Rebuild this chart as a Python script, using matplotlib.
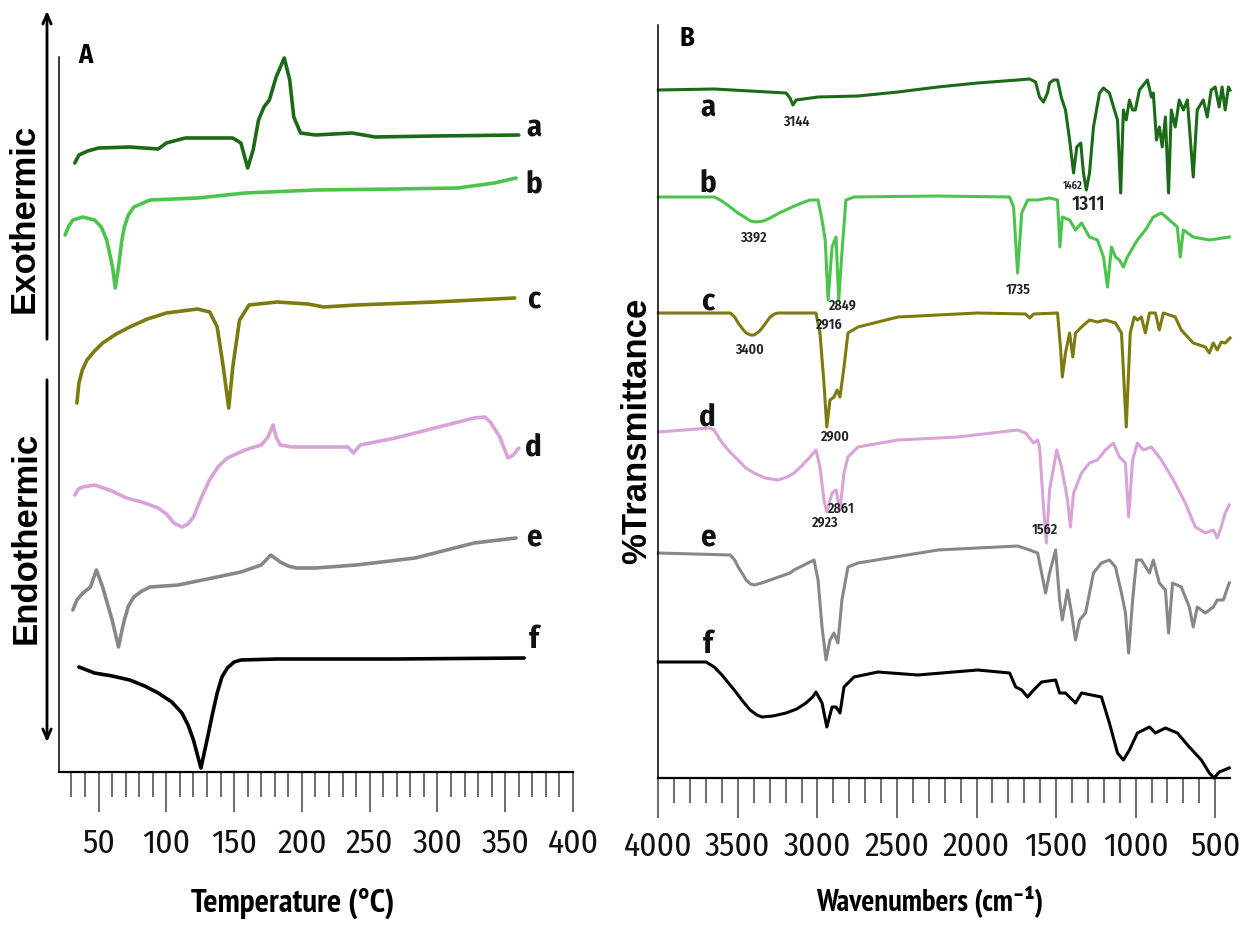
import matplotlib
matplotlib.use("Agg")
import matplotlib.pyplot as plt
from matplotlib import font_manager
from matplotlib.ticker import MultipleLocator

# --- fonts: condensed face for ticks, narrower bold face for the axis titles ---
names = {f.name for f in font_manager.fontManager.ttflist}
NARROW = "DejaVu Sans"
for cand in ["Fira Sans Condensed", "Barlow Semi Condensed", "Archivo Narrow"]:
    if cand in names:
        NARROW = cand
        break
TITLE, TITLE_SIZE = NARROW, 20.5
for cand, size in [("PT Sans Narrow", 22.5), ("Fira Sans Extra Condensed", 22)]:
    if cand in names:
        TITLE, TITLE_SIZE = cand, size
        break
ARIAL = "Liberation Sans"

# --- panel A: DSC thermograms (temperature in C, heat flow in a.u., stacked) ---
a_T = [32.5, 35.5, 42, 50, 73, 94, 100, 114, 149, 155, 160, 164, 168, 172, 176, 181, 187, 191, 194, 199, 210,
       237, 254, 298, 360]
a_h = [609, 617, 621, 624, 625, 623, 629, 634, 634, 629, 604, 622, 652, 665, 672, 695, 714, 692, 655, 639, 637,
       639, 635, 636, 637]

b_T = [25.3, 28, 31, 38.4, 47, 52, 56, 60.3, 62.3, 64.7, 67, 69, 72, 76, 88, 123, 158, 210, 269, 315, 342, 358]
b_h = [537, 546, 552, 555, 552, 545, 532, 505, 484, 505, 530, 545, 557, 565, 572, 574, 579, 582, 583, 584, 589, 594]

c_T = [34, 35.5, 38, 41.4, 47, 53, 63, 73, 86, 100, 123, 132, 137.5, 142, 146, 149, 154, 161, 181.7, 204.6, 216,
       240, 298, 357]
c_h = [369, 389, 402, 412, 421, 429, 438, 445, 453, 459, 463, 460, 445, 405, 364, 405, 452, 467, 470, 468, 465,
       467, 470, 474]

d_T = [32.5, 35, 38.4, 47, 60, 70.5, 82, 94, 100, 105.6, 111.5, 116, 120, 126, 131.8, 138, 145, 158, 170, 175,
       178.7, 181, 184, 193, 234, 238, 243, 269, 298, 327, 335, 339, 346, 352, 356, 360]
d_h = [277, 283, 285, 287, 281, 274, 270, 264, 258, 249, 245, 248, 255, 275, 292, 305, 314, 322, 327, 335,
       347, 335, 327, 325, 325, 319, 327, 334, 344, 354, 355, 350, 335, 314, 317, 324]

e_T = [31, 34, 38.4, 44, 48.4, 53, 57, 60, 64.7, 67, 69, 72, 76, 82, 88, 108.6, 137.5, 155, 170, 177, 184, 190,
       196, 210, 240, 283.6, 327, 358]
e_h = [162, 172, 179, 185, 202, 185, 166, 152, 125, 140, 152, 166, 175, 181, 185, 187, 195, 200, 207, 217, 210,
       206, 204, 204, 207, 214, 229, 234]

f_T = [35.5, 47, 60, 73, 84, 94, 104, 111.5, 116, 120, 125.5, 130, 134, 137.5, 141, 145, 150, 155, 181.7, 269, 364]
f_h = [105, 99, 96, 92, 86, 79, 70, 59, 47, 32, 4, 32, 58, 79, 95, 104, 110, 112, 113, 113, 114]

# --- panel B: FTIR spectra (wavenumber in cm-1, transmittance in a.u., stacked) ---
ir_a_w = [4000, 3648, 3197, 3172, 3154, 3134, 2996, 2745, 2494, 2243, 1993, 1742, 1666, 1629, 1604, 1579, 1554,
          1541, 1516, 1491, 1466, 1441, 1415, 1390, 1370, 1345, 1328, 1310, 1290, 1265, 1227, 1202, 1165, 1139,
          1114, 1094, 1077, 1059, 1039, 1019, 1002, 976, 926, 901, 889, 869, 851, 833, 813, 793, 776, 751, 726,
          700, 675, 638, 613, 575, 550, 525, 500, 475, 457, 437, 417, 407]
ir_a_t = [688, 689, 685, 680, 673, 678, 681, 682, 686, 691, 695, 698, 699, 696, 681, 676, 685,
          695, 698, 698, 680, 668, 638, 605, 631, 635, 605, 588, 605, 651, 685, 690, 685, 671,
          658, 585, 668, 658, 678, 668, 668, 688, 698, 681, 685, 638, 651, 631, 661, 585, 668, 651, 678,
          668, 678, 601, 668, 678, 661, 688, 691, 671, 691, 668, 691, 688]

ir_b_w = [4000, 3648, 3600, 3548, 3500, 3448, 3420, 3385, 3340, 3297, 3240, 3172, 3100, 3046, 2996, 2971, 2951,
          2933, 2908, 2883, 2866, 2846, 2821, 2770, 2243, 1792, 1767, 1742, 1716, 1679, 1616, 1541, 1491, 1476,
          1461, 1415, 1378, 1340, 1290, 1240, 1202, 1177, 1152, 1127, 1102, 1077, 1052, 989, 939, 889, 838, 788,
          738, 720, 700, 638, 537, 412]
ir_b_t = [581, 581, 577, 571, 565, 560, 557, 556, 557, 560, 565, 570, 575, 578, 578, 558, 538,
          478, 531, 541, 478, 525, 578, 581, 582, 581, 571, 505, 565, 578, 578, 580, 578, 531,
          561, 558, 548, 555, 541, 538, 521, 491, 531, 521, 518, 511, 521, 538, 548, 561, 565, 558,
          551, 521, 548, 541, 538, 541]

ir_c_w = [4000, 3548, 3520, 3498, 3470, 3448, 3420, 3398, 3370, 3347, 3320, 3297, 3270, 3247, 3009, 2984, 2959,
          2941, 2921, 2896, 2876, 2858, 2833, 2808, 2745, 2494, 1993, 1692, 1666, 1641, 1491, 1471, 1461, 1441,
          1415, 1395, 1378, 1340, 1290, 1240, 1190, 1127, 1089, 1059, 1034, 1009, 989, 964, 939, 913, 876, 851,
          826, 788, 751, 713, 638, 562, 537, 512, 487, 462, 437, 407]
ir_c_t = [465, 465, 461, 455, 449, 445, 443, 443, 446, 450, 456, 461, 464, 465, 465, 445, 395,
          351, 378, 381, 388, 381, 411, 445, 451, 461, 465, 464, 460, 464, 465, 428, 401, 425,
          445, 421, 445, 451, 458, 456, 458, 455, 445, 351, 445, 461, 458, 461, 445, 465, 465, 448,
          465, 463, 461, 448, 435, 431, 425, 435, 428, 436, 435, 440]

ir_d_w = [4000, 3674, 3650, 3598, 3550, 3498, 3450, 3398, 3330, 3247, 3190, 3147, 3100, 3046, 3009, 2984, 2959,
          2941, 2908, 2883, 2858, 2833, 2808, 2745, 2494, 2118, 1742, 1692, 1641, 1616, 1604, 1579, 1561, 1541,
          1496, 1466, 1428, 1410, 1390, 1340, 1290, 1240, 1190, 1140, 1102, 1064, 1044, 1019, 989, 951, 901, 838,
          763, 688, 625, 562, 512, 487, 462, 437, 412]
ir_d_t = [346, 350, 348, 335, 326, 318, 310, 305, 300, 298, 301, 305, 312, 321, 328, 311, 278,
          266, 285, 288, 268, 305, 321, 331, 338, 341, 348, 345, 335, 338, 331, 271, 235, 288,
          328, 311, 278, 251, 285, 305, 315, 318, 328, 335, 321, 315, 261, 318, 335, 328, 331, 318,
          298, 275, 251, 245, 248, 240, 251, 265, 273]

ir_e_w = [4000, 3548, 3520, 3498, 3470, 3448, 3420, 3398, 3350, 3297, 3172, 3147, 3021, 2996, 2971, 2946, 2921,
          2896, 2871, 2846, 2808, 2745, 2243, 1742, 1666, 1616, 1591, 1566, 1541, 1503, 1478, 1461, 1428, 1403,
          1378, 1352, 1315, 1265, 1215, 1165, 1127, 1089, 1064, 1044, 1019, 994, 964, 913, 889, 851, 813, 793,
          768, 713, 663, 638, 613, 562, 512, 487, 449, 412]
ir_e_t = [225, 223, 218, 211, 204, 198, 194, 193, 195, 198, 205, 208, 218, 198, 151, 118, 138,
          145, 135, 178, 211, 215, 228, 232, 228, 225, 205, 185, 205, 228, 178, 158, 188, 165,
          138, 158, 165, 205, 215, 218, 211, 185, 165, 125, 178, 218, 218, 205, 218, 195, 188, 145,
          195, 191, 171, 151, 171, 165, 171, 178, 178, 195]

ir_f_w = [4000, 3699, 3649, 3600, 3523, 3470, 3423, 3380, 3348, 3280, 3197, 3130, 3072, 3030, 3009, 2971, 2941,
          2908, 2883, 2858, 2833, 2770, 2620, 2369, 1993, 1792, 1754, 1716, 1679, 1641, 1591, 1503, 1478, 1441,
          1378, 1340, 1215, 1165, 1114, 1077, 1039, 989, 913, 876, 813, 738, 663, 587, 537, 507, 475, 412]
ir_f_t = [116, 116, 111, 103, 88, 77, 68, 63, 61, 62, 65, 69, 75, 81, 86, 75, 51,
          71, 71, 65, 91, 101, 106, 103, 108, 105, 91, 88, 81, 88, 96, 98, 85, 85,
          75, 85, 81, 55, 25, 18, 28, 45, 51, 45, 50, 45, 31, 18, 5, 0, 6, 10]

# peak annotations in panel B: (text, wavenumber, height, fontsize)
peak_labels = [("3144", 3136, 656, 10), ("3392", 3402, 540, 10), ("2916", 2928, 453, 10), ("2849", 2839, 472, 10),
               ("1735", 1738, 488, 10), ("1462", 1396, 592, 7.5), ("1311", 1294, 574, 14), ("3400", 3427, 428, 10),
               ("2900", 2889, 341, 10), ("2923", 2953, 255, 10), ("2861", 2851, 269, 10), ("1562", 1573, 248, 10)]

letters = ["a", "b", "c", "d", "e", "f"]
colors = ["#1b6a17", "#4cc44c", "#7d7a10", "#d9a3d9", "#878787", "#000000"]
dsc_label_h = [644, 588, 472, 325, 234, 132]
ir_label_h = [670, 595, 476, 361, 240, 133]

temp_ticks = [50, 100, 150, 200, 250, 300, 350, 400]
wn_ticks = [4000, 3500, 3000, 2500, 2000, 1500, 1000, 500]

fig = plt.figure(figsize=(12.44, 9.25), dpi=100)
W, H = 1244, 925

axA = fig.add_axes([59 / W, (H - 772) / H, 514 / W, 715 / H])
axB = fig.add_axes([658.3 / W, (H - 778) / H, 571.7 / W, 753 / H])

dsc = [(a_T, a_h), (b_T, b_h), (c_T, c_h), (d_T, d_h), (e_T, e_h), (f_T, f_h)]
for (t, h), col in zip(dsc, colors):
    axA.plot(t, h, color=col, lw=2.6, solid_joinstyle="round", solid_capstyle="round", clip_on=False)
for lab, y in zip(letters, dsc_label_h):
    axA.text(371, y, lab, fontsize=22, family=NARROW, fontweight="bold", ha="center", va="center", color="#111")

ir = [(ir_a_w, ir_a_t), (ir_b_w, ir_b_t), (ir_c_w, ir_c_t), (ir_d_w, ir_d_t), (ir_e_w, ir_e_t), (ir_f_w, ir_f_t)]
for (w, t), col in zip(ir, colors):
    axB.plot(w, t, color=col, lw=2.2, solid_joinstyle="round", clip_on=False)
for lab, y in zip(letters, ir_label_h):
    axB.text(3690, y, lab, fontsize=22, family=NARROW, fontweight="bold", ha="center", va="center", color="#111")
for txt, w, y, fs in peak_labels:
    axB.text(w, y, txt, fontsize=fs, family=NARROW, fontweight="semibold", ha="center", va="center", color="#222")

# axes styling
axA.set_xlim(20.8, 400)
axA.set_ylim(0, 715)
axB.set_xlim(4000, 407)
axB.set_ylim(0, 753)

for ax, pad in ((axA, 11), (axB, 9)):
    ax.spines["top"].set_visible(False)
    ax.spines["right"].set_visible(False)
    ax.spines["bottom"].set_linewidth(1.6)
    ax.spines["left"].set_linewidth(1.1)
    ax.set_yticks([])
    ax.tick_params(axis="x", which="major", direction="out", length=29, width=1.1, color="#444", pad=pad)
    ax.tick_params(axis="x", which="minor", direction="out", length=18, width=1.1, color="#444")

axA.set_xticks(temp_ticks)
axA.set_xticklabels([str(v) for v in temp_ticks], family=NARROW, fontsize=24, color="#111")
axA.xaxis.set_minor_locator(MultipleLocator(10))

axB.set_xticks(wn_ticks)
axB.set_xticklabels([str(v) for v in wn_ticks], family=NARROW, fontsize=24, color="#111")
axB.xaxis.set_minor_locator(MultipleLocator(100))

# panel letters
axA.text(40, 717, "A", fontsize=19, family=NARROW, fontweight="bold", ha="center", va="center", clip_on=False)
axB.text(3820, 740, "B", fontsize=19, family=NARROW, fontweight="bold", ha="center", va="center", clip_on=False)

# axis titles
fig.text(293 / W, 1 - 903 / H, "Temperature (\u00b0C)", fontsize=TITLE_SIZE + 1.5, family=[TITLE, "DejaVu Sans"],
         fontweight="bold", ha="center", va="center")
fig.text(930 / W, 1 - 901 / H, "Wavenumbers (cm\u207b\u00b9)", fontsize=TITLE_SIZE - 0.5,
         family=[TITLE, NARROW, "DejaVu Sans"], fontweight="bold", ha="center", va="center")
fig.text(637 / W, 1 - 431 / H, "%Transmittance", fontsize=25, family=ARIAL, fontweight="bold",
         rotation=90, ha="center", va="center")
fig.text(24 / W, 1 - 218 / H, "Exothermic", fontsize=25, family=ARIAL, fontweight="bold",
         rotation=90, ha="center", va="center")
fig.text(26 / W, 1 - 538 / H, "Endothermic", fontsize=25, family=ARIAL, fontweight="bold",
         rotation=90, ha="center", va="center")

# exo / endo arrows
arrow = dict(arrowstyle="->, head_length=0.7, head_width=0.3", lw=2, color="black")
fig.add_artist(plt.Annotation("", xy=(47 / W, 1 - 8 / H), xytext=(47 / W, 1 - 342 / H),
                              xycoords="figure fraction", textcoords="figure fraction", arrowprops=arrow))
fig.add_artist(plt.Annotation("", xy=(47 / W, 1 - 745 / H), xytext=(47 / W, 1 - 377 / H),
                              xycoords="figure fraction", textcoords="figure fraction", arrowprops=arrow))

fig.savefig("out.png", dpi=100, facecolor="white")
